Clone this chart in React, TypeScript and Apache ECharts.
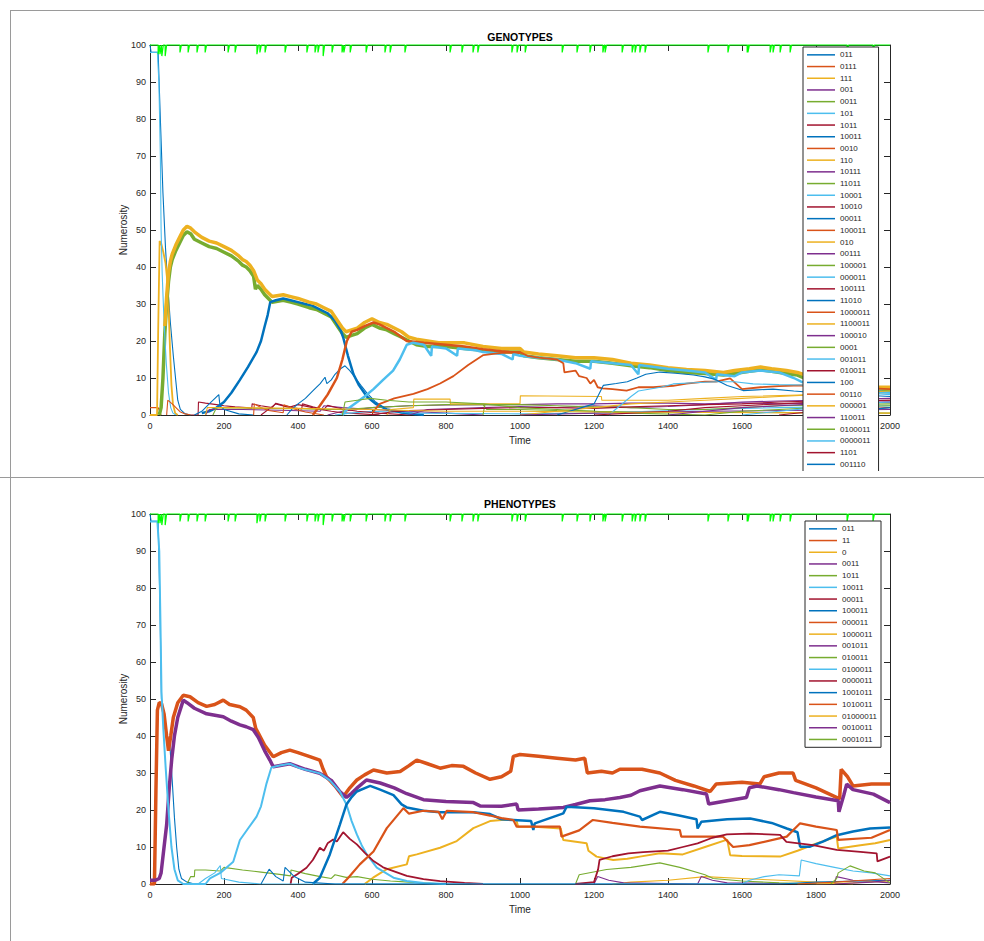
import React, { useEffect, useRef } from "react";
import * as echarts from "echarts";

const COLORS = ["#0072BD", "#D95319", "#EDB120", "#7E2F8E", "#77AC30", "#4DBEEE", "#A2142F"];
const FONT = 'Arial, "Liberation Sans", Helvetica, sans-serif';
const X_MIN = 0, X_MAX = 2000, X_STEP = 200;
const Y_MIN = 0, Y_MAX = 100, Y_STEP = 10;

// green marker line at the top (spike times and depths)
const SPIKE_T = [22, 27, 32, 41, 81, 103, 127, 149, 211, 230, 289, 297, 311, 365, 424, 446, 454, 468, 492, 519, 524, 541, 584, 635, 649, 689, 811, 843, 873, 886, 978, 992, 1014, 1114, 1154, 1189, 1224, 1230, 1276, 1303, 1311, 1324, 1338, 1508, 1562, 1614, 1616, 1676, 1684, 1703, 1730, 1884, 1954];
const SPIKE_D = [2.5, 2.5, 3, 3, 2, 2, 2, 2, 2, 2, 2.5, 2, 2, 2, 2, 2, 2, 3, 2, 2, 2, 2, 2, 2, 2, 2, 2, 2, 2, 2, 2, 2, 2, 2, 2, 2, 2, 2, 2, 2, 2, 2, 2, 2, 2, 2, 2, 2, 2, 2, 2, 2, 2];

// ---------------- GENOTYPES ----------------
const GEN_NAMES = ["011", "0111", "111", "001", "0011", "101", "1011", "10011", "0010", "110", "10111", "11011", "10001", "10010", "00011", "100011", "010", "00111", "100001", "000011", "100111", "11010", "1000011", "1100011", "100010", "0001", "001011", "010011", "100", "00110", "000001", "110011", "0100011", "0000011", "1101", "001110"];

const G_011 = [[0, 100], [3, 98], [22, 98], [28, 80], [35, 60], [42, 45], [48, 35], [55, 25], [63, 16], [70, 9], [75, 4], [82, 1.5], [95, 0.3], [110, 0]];
const G_0111 = [[0, 2], [22, 2], [26, 1], [30, 0]];
const G_111 = [[0, 0], [19, 0], [22, 22], [26, 47], [30, 46.5], [36, 44], [42, 41], [47, 36], [50, 30], [54, 18], [58, 8], [62, 3], [68, 0.5], [75, 0]];
const G_001 = [[480, 0], [520, 1], [600, 2], [700, 2.5], [800, 2.7], [900, 2.8], [1000, 2.8], [1100, 3], [1200, 3], [1300, 3.2], [1400, 3.2], [1500, 3], [1600, 3.3], [1700, 3], [1800, 3.2], [2000, 3.5]];
const G_0011 = [[25, 0], [30, 2], [35, 10], [40, 22], [45, 30], [50, 36], [55, 40], [60, 42], [70, 44.5], [80, 46.5], [90, 48.5], [100, 49.5], [110, 49], [120, 47.5], [140, 46.5], [160, 45.5], [180, 45], [200, 44], [220, 43], [240, 41.5], [250, 40.5], [260, 40], [270, 39], [280, 37.5], [285, 34], [290, 35], [300, 34], [310, 32.5], [320, 31.5], [330, 30.5], [360, 31], [380, 30.5], [400, 30], [430, 29], [450, 28.5], [470, 27.5], [490, 26.5], [500, 25], [510, 23.5], [520, 22], [530, 21], [545, 21.5], [560, 22], [580, 23.5], [600, 24.5], [620, 23.5], [640, 23], [660, 22], [680, 21], [700, 20], [720, 19], [750, 18.5], [800, 18.5], [850, 18], [900, 17.5], [950, 17], [1000, 17], [1010, 16], [1050, 15.5], [1100, 15], [1150, 14.5], [1200, 14.5], [1250, 14], [1300, 13.3], [1350, 12.8], [1400, 12], [1450, 11.5], [1500, 11.2], [1550, 10.8], [1580, 11.2], [1620, 11.8], [1650, 12.2], [1680, 11.8], [1720, 11.2], [1750, 10.8], [1780, 9.5], [1800, 9], [1850, 7.5], [1900, 7], [1950, 6.5], [2000, 6.5]];
const G_101 = [[0, 98], [20, 98], [24, 90], [28, 70], [30, 50], [33, 38], [38, 25], [44, 14], [50, 6], [56, 2], [62, 0.5], [70, 0]];
const G_1011 = [[110, 0], [130, 0], [131, 3.5], [150, 3.2], [180, 2.8], [200, 2.5], [230, 2.2], [260, 2], [275, 1.8], [276, 3], [300, 2.5], [330, 2], [340, 3.2], [360, 2.6], [380, 2.2], [400, 2.8], [430, 2.2], [460, 1.5], [490, 1], [520, 0.6], [570, 0.3], [620, 0]];
const G_10011 = [[140, 0.5], [160, 1], [180, 2], [200, 3.5], [220, 6], [243, 9.5], [265, 13], [288, 17], [300, 20], [310, 24], [318, 27], [325, 30.5], [340, 31], [360, 31.5], [380, 31], [400, 30.5], [420, 30], [440, 29.5], [460, 28.5], [480, 27.5], [500, 25.5], [515, 23], [522, 21], [535, 16], [550, 11], [565, 8], [586, 5], [610, 3], [640, 1.5], [700, 0.5], [740, 0]];
const G_0010 = [[45, 0], [48, 4], [60, 3], [70, 2], [81, 0.9], [95, 0.3], [110, 0]];
const G_110 = [[40, 24], [45, 32], [50, 38.5], [55, 41.5], [60, 43.5], [70, 46], [80, 48], [90, 50], [100, 51], [110, 50.5], [120, 49.5], [140, 48], [160, 47], [180, 46.5], [200, 45.5], [220, 44.5], [240, 43], [250, 42], [260, 41.5], [270, 40.5], [280, 39], [290, 36.5], [300, 35.5], [310, 34], [320, 33], [330, 32], [360, 32.5], [380, 32], [400, 31.5], [430, 30.5], [450, 30], [470, 29], [490, 28], [500, 26.5], [510, 25], [520, 23.5], [530, 22.5], [545, 23], [560, 23.5], [580, 25], [600, 26], [620, 25], [640, 24.5], [660, 23.5], [680, 22.5], [700, 21], [720, 20.5], [750, 20], [780, 19.5], [800, 19.5], [850, 19.5], [900, 18.5], [950, 18], [1000, 18], [1010, 17], [1050, 16.5], [1100, 16], [1150, 15.5], [1200, 15.5], [1250, 15], [1300, 14], [1350, 13.5], [1400, 12.8], [1450, 12.3], [1500, 12], [1550, 11.5], [1580, 12], [1620, 12.5], [1650, 13], [1680, 12.5], [1720, 12], [1750, 11.5], [1780, 10.5], [1800, 10], [1850, 8.5], [1900, 8], [1950, 7.5], [2000, 7.5]];
const G_10111 = [[150, 0], [160, 1.5], [250, 1.5], [350, 1.3], [460, 1], [470, 2.5], [520, 2], [600, 1.5], [700, 1], [800, 0.5], [900, 0]];
const G_11011 = [[170, 0], [180, 2], [300, 1.8], [400, 1.7], [480, 1.5], [527, 1.5], [600, 2], [700, 2.5], [800, 2.8], [900, 2.8], [910, 1.5], [1000, 1.5], [1100, 1.2], [1200, 1], [1400, 0.8], [2000, 0.5]];
const G_10001 = [[500, 0], [540, 0.5], [600, 1], [650, 0.8], [700, 0.5], [1000, 0.3], [1200, 0.5], [1500, 1.5], [1700, 2], [2000, 2.5]];
const G_10010 = [[300, 0], [340, 3], [370, 2.2], [410, 1.6], [412, 3], [440, 2.2], [470, 1.5], [480, 2.6], [520, 1.6], [560, 1], [620, 0.5], [700, 0]];
const G_00011 = [[370, 0], [383, 1.5], [400, 3], [420, 4.5], [440, 6.5], [460, 8.5], [473, 10.2], [478, 8.5], [490, 9.5], [500, 11], [515, 12.5], [527, 13.3], [540, 12], [555, 10], [570, 8], [586, 6], [610, 3.5], [640, 1.5], [680, 0.5], [720, 0]];
const G_100011 = [[440, 0], [459, 2.5], [480, 5.5], [505, 10], [520, 15], [532, 20], [545, 22.5], [560, 23], [580, 24], [604, 25], [620, 24.5], [640, 23.5], [660, 22.5], [694, 20], [740, 19.5], [800, 19], [850, 18.5], [900, 17.8], [950, 17.2], [1000, 16.8]];
const G_010 = [[640, 0], [650, 1.5], [712, 2], [713, 4.3], [811, 4.3], [812, 3], [1000, 3], [1001, 5.2], [1220, 5], [1221, 4], [1400, 4], [1500, 4.5], [1600, 5], [1800, 5.5], [2000, 6]];
const G_00111 = [[700, 0], [750, 1.5], [900, 2], [1000, 2.3], [1100, 2], [1200, 2.5], [1300, 2], [1400, 2.3], [1500, 2.8], [1600, 3.5], [1700, 3.8], [1800, 4], [2000, 4.5]];
const G_100001 = [[900, 0], [905, 2.8], [1000, 2.8], [1100, 2.5], [1200, 2.2], [1300, 2], [1400, 1.5], [1500, 1.5], [1600, 2], [1700, 2.5], [2000, 3]];
const G_000011 = [[520, 0], [532, 1.5], [560, 3.5], [580, 5], [604, 7], [630, 9.5], [657, 12], [675, 15], [694, 19], [710, 19.5], [740, 19], [760, 16], [762, 18.5], [800, 18], [830, 16], [832, 18], [880, 17.5], [900, 17], [950, 16.5], [980, 15], [982, 16.5], [1000, 16], [1050, 15.5], [1100, 15], [1150, 14], [1190, 12.5], [1192, 14.5], [1250, 14], [1300, 13.5], [1320, 11], [1322, 13.5], [1400, 12.5], [1450, 12], [1500, 11.5], [1530, 9.5], [1532, 11], [1580, 10.5], [1600, 11.5], [1650, 12], [1700, 11.5], [1740, 10], [1760, 9], [1800, 8], [1850, 7.5], [1900, 7], [1950, 6.5], [2000, 6]];
const G_100111 = [[600, 0], [650, 0.8], [700, 1.2], [800, 1.5], [900, 1.8], [1000, 2], [1100, 2], [1200, 1.8], [1300, 2.2], [1400, 2.5], [1500, 2.8], [1600, 3], [1700, 3.5], [1800, 3.8], [2000, 4]];
const G_11010 = [[120, 0], [140, 1], [160, 3], [186, 5.5], [189, 2.5], [200, 1.5], [240, 0.3], [280, 0]];
const G_1000011 = [[600, 0.5], [621, 3], [660, 4.5], [712, 5.7], [750, 7], [784, 8.5], [820, 10.5], [860, 13.5], [901, 16.2], [950, 16.8], [1000, 17], [1020, 16], [1050, 15.5], [1100, 15], [1117, 14], [1120, 11.5], [1150, 12], [1160, 10.5], [1180, 10], [1190, 8.5], [1200, 9.5], [1210, 7.5], [1223, 7.2], [1250, 7], [1288, 6.6], [1320, 7.5], [1360, 7.5], [1414, 7.9], [1450, 8.5], [1500, 9], [1530, 9], [1568, 9.9], [1600, 7], [1650, 7.5], [1700, 7.8], [1760, 8], [2000, 7]];
const G_1100011 = [[1000, 0], [1100, 1], [1200, 2], [1300, 3], [1400, 3.5], [1500, 4], [1600, 4.5], [1700, 5], [1800, 5.5], [2000, 6.5]];
const G_100010 = [[1000, 0], [1200, 0.5], [1500, 1], [2000, 1.5]];
const G_0001 = [[520, 0], [527, 3.5], [560, 4], [595, 4.5], [640, 4], [700, 3.5], [800, 3.5], [900, 3], [950, 2.5], [1000, 2], [1100, 1.5], [1200, 1], [1300, 0.5], [1500, 0]];
const G_001011 = [[1240, 0], [1300, 5], [1320, 6.5], [1380, 7.5], [1414, 8.4], [1470, 8.7], [1532, 9], [1580, 9], [1630, 8.4], [1700, 8.2], [1762, 8.1], [1800, 7], [2000, 5.5]];
const G_010011 = [[1200, 0], [1300, 0.5], [1400, 1], [1500, 2], [1600, 2.5], [1700, 3], [1800, 3.5], [2000, 4]];
const G_100 = [[1100, 0], [1200, 3], [1225, 8], [1260, 8.5], [1290, 9], [1316, 10], [1340, 11], [1378, 11.6], [1420, 11.3], [1469, 10.8], [1500, 10.3], [1525, 9.7], [1560, 8], [1603, 6.6], [1640, 6.8], [1684, 7], [1740, 6.5], [1800, 6], [2000, 5]];
const G_00110 = [[280, 0], [282, 3], [300, 2], [320, 1.2], [360, 0.6], [362, 2.8], [390, 1.6], [420, 0.8], [470, 0]];
const G_000001 = [[150, 0], [155, 2], [200, 2], [400, 1.8], [600, 1.5], [700, 1.2], [800, 1], [1000, 1], [1200, 0.8], [2000, 0.5]];
const G_110011 = [[1400, 0], [1500, 1], [1600, 2], [1700, 2.5], [1800, 3], [2000, 3.5]];
const G_0100011 = [[1500, 0], [1600, 1], [1700, 1.5], [1800, 2], [2000, 2.5]];
const G_0000011 = [[1600, 0], [1700, 1], [1800, 2], [1900, 3], [2000, 3.5]];
const G_1101 = [[1700, 0], [1800, 1], [2000, 2]];
const G_001110 = [[1800, 0], [1900, 1], [2000, 2]];

const GEN_DATA = [G_011, G_0111, G_111, G_001, G_0011, G_101, G_1011, G_10011, G_0010, G_110, G_10111, G_11011, G_10001, G_10010, G_00011, G_100011, G_010, G_00111, G_100001, G_000011, G_100111, G_11010, G_1000011, G_1100011, G_100010, G_0001, G_001011, G_010011, G_100, G_00110, G_000001, G_110011, G_0100011, G_0000011, G_1101, G_001110];
const GEN_THICK = { "0011": 3.5, "110": 3.5, "10011": 2.5, "100011": 2.5, "000011": 2.5, "1000011": 1.8, "111": 1.8 };

// ---------------- PHENOTYPES ----------------
const PHEN_NAMES = ["011", "11", "0", "0011", "1011", "10011", "00011", "100011", "000011", "1000011", "001011", "010011", "0100011", "0000011", "1001011", "1010011", "01000011", "0010011", "0001011"];

const P_011 = [[0, 100], [3, 98], [22, 98], [27, 75], [31, 50], [38, 45], [45, 41], [54, 37], [60, 28], [66, 18], [72, 10], [78, 4], [85, 1.5], [100, 0.5], [120, 0]];
const P_11 = [[0, 0], [12, 0], [16, 25], [20, 47], [25, 49], [31, 48.8], [38, 46], [45, 40], [50, 36], [56, 40], [63, 45], [75, 49], [90, 51], [108, 50.6], [130, 49], [153, 48], [175, 48.5], [198, 49.7], [215, 48.5], [243, 47.9], [260, 47], [279, 45], [286, 42], [293, 40.7], [310, 37.5], [333, 34.4], [355, 35.5], [378, 36.2], [400, 35.5], [430, 34.5], [459, 33.5], [468, 31], [477, 29], [500, 26.5], [522, 23.6], [540, 26], [559, 28.1], [580, 29.5], [604, 30.8], [640, 30], [676, 30.4], [700, 32], [721, 33.5], [750, 32.5], [784, 31.3], [815, 32], [847, 31.8], [880, 30], [919, 28.3], [950, 29], [975, 30.5], [982, 34.5], [1000, 35], [1050, 34.5], [1100, 34], [1150, 33.5], [1175, 34], [1182, 30], [1220, 30.5], [1250, 30], [1270, 31], [1330, 31], [1378, 30], [1420, 28], [1470, 26.5], [1514, 25], [1530, 27], [1600, 27.5], [1648, 27], [1660, 29], [1700, 30], [1738, 30], [1745, 28], [1800, 26], [1864, 23], [1868, 31], [1885, 29], [1900, 26.5], [1950, 27], [2000, 27]];
const P_0 = [[580, 0], [603, 1.7], [640, 4], [694, 5.3], [700, 7.5], [721, 8], [784, 9.8], [829, 11.6], [874, 15.1], [919, 17], [950, 17.3], [990, 17.3], [995, 15.5], [1040, 15.5], [1110, 15], [1117, 11.9], [1180, 11], [1185, 9], [1207, 7.4], [1252, 6.5], [1290, 6.8], [1324, 7.4], [1378, 8.3], [1440, 8], [1500, 10], [1560, 12], [1568, 7.8], [1600, 7.6], [1703, 7.4], [1750, 9], [1792, 10.6], [1856, 12.8], [1860, 9.6], [1920, 10.5], [1960, 11], [2000, 11.9]];
const P_0011 = [[0, 1], [15, 1], [25, 1.5], [30, 3], [38, 10], [45, 16], [52, 26], [59, 34], [66, 40], [75, 45], [90, 49.7], [100, 49], [120, 47.5], [153, 46], [198, 45.2], [220, 44], [243, 43], [260, 42.5], [279, 41.7], [293, 39.6], [310, 36], [324, 33.5], [333, 31.7], [378, 32.5], [420, 31], [459, 29.9], [490, 28], [513, 25], [531, 23.4], [545, 24.5], [559, 25.9], [585, 28.1], [622, 27.3], [660, 26], [694, 24.4], [739, 22.8], [800, 22.3], [874, 22], [892, 21.1], [950, 21], [991, 21.6], [995, 20], [1050, 20.3], [1117, 20.7], [1150, 21.5], [1189, 22.5], [1230, 22.8], [1270, 23.4], [1300, 24], [1324, 25.2], [1378, 26.5], [1440, 25.5], [1504, 24.3], [1510, 21.6], [1560, 22.5], [1612, 23.4], [1620, 26], [1640, 26.5], [1700, 25.5], [1739, 24.7], [1800, 23.5], [1860, 22.5], [1862, 19.5], [1875, 24], [1883, 27], [1900, 25.5], [1955, 24.3], [2000, 22]];
const P_1011 = [[100, 0], [110, 2], [120, 2], [121, 3.8], [150, 3.8], [190, 3.5], [200, 4.5], [250, 3.8], [300, 3.2], [350, 2.6], [380, 2.2], [381, 3.8], [420, 2.8], [460, 2], [490, 1.5], [500, 2.5], [530, 1.8], [560, 2], [600, 1.3], [650, 0.8], [700, 0.5], [760, 0.2], [800, 0]];
const P_10011 = [[0, 98], [20, 98], [25, 90], [28, 72], [31, 52], [36, 42], [42, 32], [50, 20], [58, 10], [66, 4], [75, 1], [90, 0], [150, 0], [162, 1.5], [190, 3], [225, 6], [243, 11.9], [265, 15], [288, 18.2], [300, 21], [315, 27.2], [328, 31.5], [350, 32], [378, 32.5], [400, 31.5], [423, 30.8], [459, 29.9], [486, 28], [513, 25], [531, 21.5], [545, 17], [559, 13.4], [572, 10.5], [586, 8], [613, 4.4], [658, 1.7], [694, 0.8], [740, 0.3], [800, 0]];
const P_00011 = [[380, 0], [383, 1.7], [400, 2.8], [423, 4.4], [440, 6.5], [459, 9.8], [470, 9], [480, 11], [495, 12], [505, 11.5], [515, 13], [522, 14], [540, 12.2], [559, 10.7], [580, 8.5], [604, 6.2], [630, 4.5], [658, 3.5], [694, 2.2], [739, 1.3], [784, 0.8], [850, 0.3], [900, 0]];
const P_100011 = [[440, 0], [459, 1.7], [486, 8], [513, 16], [531, 21.5], [545, 23.5], [559, 25], [595, 26.5], [622, 25.5], [658, 24], [680, 21.5], [694, 20.7], [739, 19.8], [784, 19.4], [874, 19.4], [919, 18.9], [950, 17.5], [982, 17.3], [1030, 17], [1036, 14.6], [1040, 16.4], [1117, 19.1], [1126, 20.9], [1200, 20.5], [1280, 19.5], [1324, 18.2], [1330, 17.3], [1378, 19.5], [1430, 18.5], [1477, 17.5], [1480, 15], [1490, 16.8], [1560, 17.5], [1622, 17.7], [1680, 16.5], [1721, 15], [1750, 14], [1757, 10.1], [1784, 10.1], [1820, 11.5], [1856, 13.2], [1900, 14.2], [1946, 15], [2000, 15.3]];
const P_000011 = [[520, 0], [536, 1.7], [567, 5.3], [604, 8.8], [640, 15.1], [685, 20.5], [700, 19], [739, 19.8], [780, 19.5], [790, 17.5], [802, 19.8], [874, 19.4], [919, 18.5], [950, 17.8], [982, 17.3], [991, 15.5], [1108, 15.5], [1112, 12.8], [1160, 14.5], [1197, 17.3], [1250, 16.5], [1324, 15.5], [1432, 14.6], [1436, 12.8], [1549, 12.8], [1576, 10], [1620, 10.5], [1721, 12.8], [1757, 16.4], [1800, 15.5], [1856, 14.6], [1860, 11.9], [1950, 12.5], [2000, 14.6]];
const P_1000011 = [[1250, 0], [1300, 0.5], [1400, 1], [1500, 2], [1600, 1.5], [1700, 1], [1800, 0.5], [1900, 0]];
const P_001011 = [[1200, 0], [1210, 2], [1240, 1], [1280, 0.3], [1480, 0], [1490, 2], [1520, 1], [1560, 0.3], [1850, 0], [1855, 2], [1900, 1], [2000, 0.3]];
const P_010011 = [[1150, 0], [1160, 2.5], [1234, 3.9], [1300, 4.5], [1378, 5.7], [1432, 4.5], [1500, 2.5], [1522, 1.5], [1600, 0.8], [1700, 0.3], [1800, 0]];
const P_0100011 = [[130, 0], [150, 1.5], [175, 3], [190, 5], [193, 1.5], [240, 0.5], [300, 0], [1600, 0], [1620, 1], [1660, 2], [1700, 2.5], [1755, 2.2], [1760, 6.5], [1800, 5.5], [1850, 4.5], [1900, 3.5], [1950, 3], [2000, 2.2]];
const P_0000011 = [[1150, 0], [1200, 0.5], [1211, 3.9], [1215, 6.5], [1250, 7.5], [1293, 8.3], [1333, 8.6], [1400, 9], [1440, 10], [1480, 11], [1520, 12.5], [1559, 13.4], [1620, 13.6], [1703, 13.3], [1720, 11.4], [1792, 10.5], [1856, 9.2], [1920, 8.7], [1964, 8.3], [1966, 6.1], [2000, 7.4]];
const P_1001011 = [[300, 0], [322, 4], [340, 2], [360, 0.8], [365, 4.5], [390, 2], [420, 0.5], [500, 0], [1700, 0], [1800, 0.5], [2000, 1]];
const P_1010011 = [[1750, 0], [1850, 0.5], [2000, 1.5]];
const P_01000011 = [[1800, 0], [1900, 0.3], [2000, 0.8]];
const P_0010011 = [[1850, 0], [1950, 0.5], [2000, 1]];
const P_0001011 = [[1840, 0], [1856, 1.5], [1860, 3], [1892, 4.9], [1930, 3.5], [1960, 3], [2000, 0.3]];

const PHEN_DATA = [P_011, P_11, P_0, P_0011, P_1011, P_10011, P_00011, P_100011, P_000011, P_1000011, P_001011, P_010011, P_0100011, P_0000011, P_1001011, P_1010011, P_01000011, P_0010011, P_0001011];
const PHEN_THICK = { "11": 3.5, "0011": 3.5, "10011": 2, "100011": 2.5, "000011": 2.2, "0": 2, "00011": 1.8, "0000011": 1.8 };

function spikeLine() {
  const pts: number[][] = [[X_MIN, Y_MAX]];
  SPIKE_T.forEach((t, i) => {
    pts.push([t, Y_MAX], [t, Y_MAX - SPIKE_D[i]], [t + 4, Y_MAX]);
  });
  pts.push([X_MAX, Y_MAX]);
  return pts;
}

function buildOption(cfg: {
  names: string[]; data: number[][][]; thick: Record<string, number>;
  title: string; titleY: number; gridTop: number; legendTop: number; legendLeft: number;
  legendPadRight: number; graphics: any[];
}) {
  const axisColor = "#262626";
  const series: any[] = cfg.names.map((n, i) => ({
    name: n,
    type: "line",
    data: cfg.data[i],
    color: COLORS[i % 7],
    showSymbol: false,
    symbol: "none",
    lineStyle: { width: cfg.thick[n] || 1.1, color: COLORS[i % 7] },
    xAxisIndex: 0,
    yAxisIndex: 0,
  }));
  series.push({
    name: "_marker",
    type: "line",
    data: spikeLine(),
    showSymbol: false,
    symbol: "none",
    clip: false,
    color: "#00FF00",
    lineStyle: { width: 1.2, color: "#00FF00" },
    xAxisIndex: 0,
    yAxisIndex: 0,
    z: 3,
  });
  const xBase = {
    type: "value", min: X_MIN, max: X_MAX, interval: X_STEP, gridIndex: 0,
    axisLine: { show: true, onZero: false, lineStyle: { color: axisColor, width: 1 } },
    axisTick: { show: true, inside: true, length: 6, lineStyle: { color: axisColor } },
    splitLine: { show: false },
  };
  const yBase = {
    type: "value", min: Y_MIN, max: Y_MAX, interval: Y_STEP, gridIndex: 0,
    axisLine: { show: true, onZero: false, lineStyle: { color: axisColor, width: 1 } },
    axisTick: { show: true, inside: true, length: 6, lineStyle: { color: axisColor } },
    splitLine: { show: false },
  };
  return {
    animation: false,
    backgroundColor: "#ffffff",
    textStyle: { fontFamily: FONT },
    grid: [{ left: 150, top: cfg.gridTop, width: 740, height: 370, containLabel: false }],
    xAxis: [
      {
        ...xBase, position: "bottom",
        axisLabel: { fontSize: 9, color: axisColor, margin: 6, fontFamily: FONT, formatter: (v: number) => String(v) },
        name: "Time", nameLocation: "middle", nameGap: 20, nameMoveOverlap: false,
        nameTextStyle: { fontSize: 10, color: axisColor, fontFamily: FONT },
      },
      { ...xBase, position: "top", axisLabel: { show: false } },
    ],
    yAxis: [
      {
        ...yBase, position: "left",
        axisLabel: { fontSize: 9, color: axisColor, margin: 4, fontFamily: FONT, formatter: (v: number) => String(v) },
        name: "Numerosity", nameLocation: "middle", nameGap: 22, nameMoveOverlap: false,
        nameTextStyle: { fontSize: 10, color: axisColor, fontFamily: FONT },
      },
      { ...yBase, position: "right", axisLabel: { show: false } },
    ],
    legend: {
      data: cfg.names,
      orient: "vertical",
      left: cfg.legendLeft,
      top: cfg.legendTop,
      icon: "rect",
      itemWidth: 28,
      itemHeight: 1.5,
      itemGap: 0,
      padding: [2, cfg.legendPadRight, 2, 4],
      backgroundColor: "#ffffff",
      borderColor: axisColor,
      borderWidth: 1,
      borderRadius: 0,
      selectedMode: false,
      textStyle: { fontSize: 8, color: axisColor, fontFamily: FONT, lineHeight: 11.7 },
      z: 10,
    },
    graphic: [
      ...cfg.graphics,
      {
        type: "text", x: 520, y: cfg.titleY, z: 50,
        style: { text: cfg.title, fontSize: 10.5, fontWeight: "bold", fontFamily: FONT, fill: "#000", align: "center", verticalAlign: "middle" },
      },
    ],
    series,
  };
}

export default function App() {
  const topRef = useRef<HTMLDivElement>(null);
  const botRef = useRef<HTMLDivElement>(null);
  useEffect(() => {
    const frame = "#9a9a9a";
    const top = echarts.init(topRef.current!, null, { renderer: "svg" });
    top.setOption(buildOption({
      names: GEN_NAMES, data: GEN_DATA, thick: GEN_THICK,
      title: "GENOTYPES", titleY: 37, gridTop: 45, legendTop: 47, legendLeft: 803, legendPadRight: 8,
      graphics: [
        { type: "line", z: 60, shape: { x1: 10, y1: 10.5, x2: 984, y2: 10.5 }, style: { stroke: frame, lineWidth: 1 } },
        { type: "line", z: 60, shape: { x1: 10.5, y1: 10, x2: 10.5, y2: 478 }, style: { stroke: frame, lineWidth: 1 } },
        { type: "rect", z: 100, shape: { x: 795, y: 471, width: 95, height: 7 }, style: { fill: "#ffffff" } },
        { type: "line", z: 101, shape: { x1: 0, y1: 477.5, x2: 984, y2: 477.5 }, style: { stroke: frame, lineWidth: 1.2 } },
      ],
    }) as any);
    const bot = echarts.init(botRef.current!, null, { renderer: "svg" });
    bot.setOption(buildOption({
      names: PHEN_NAMES, data: PHEN_DATA, thick: PHEN_THICK,
      title: "PHENOTYPES", titleY: 26, gridTop: 36, legendTop: 43, legendLeft: 805, legendPadRight: 4,
      graphics: [
        { type: "line", z: 60, shape: { x1: 10.5, y1: 0, x2: 10.5, y2: 463 }, style: { stroke: frame, lineWidth: 1 } },
      ],
    }) as any);
    return () => {
      top.dispose();
      bot.dispose();
    };
  }, []);
  return (
    <div style={{ position: "absolute", left: 0, top: 0, width: 984, height: 941, background: "#fff" }}>
      <div ref={topRef} style={{ position: "absolute", left: 0, top: 0, width: 984, height: 478 }} />
      <div ref={botRef} style={{ position: "absolute", left: 0, top: 478, width: 984, height: 463 }} />
    </div>
  );
}
